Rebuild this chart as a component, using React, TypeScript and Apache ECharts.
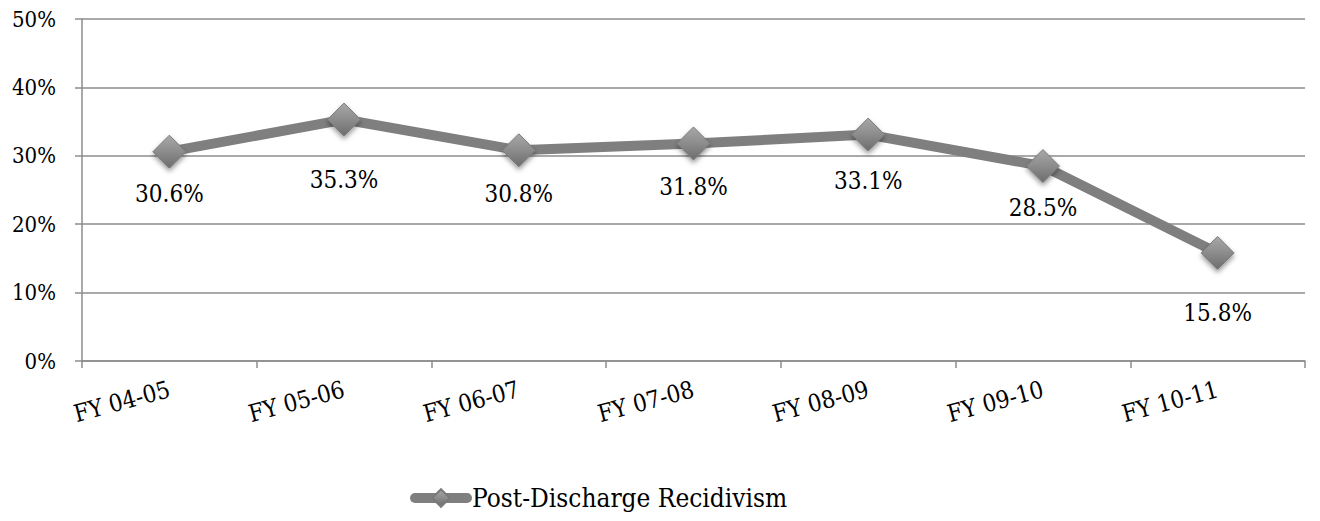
import React, { useEffect, useRef } from "react";
import * as echarts from "echarts";

const categories = ["FY 04-05", "FY 05-06", "FY 06-07", "FY 07-08", "FY 08-09", "FY 09-10", "FY 10-11"];
const recidivism = [30.6, 35.3, 30.8, 31.8, 33.1, 28.5, 15.8];
const seriesName = "Post-Discharge Recidivism";
const labelDistances = [13, 31, 15, 15, 17, 13, 31];

const FONT = "DejaVu Serif Condensed, DejaVu Serif";

export default function App() {
  const ref = useRef<HTMLDivElement>(null);
  useEffect(() => {
    if (!ref.current) return;
    const chart = echarts.init(ref.current, undefined, { renderer: "svg" });
    const markerFill = new echarts.graphic.LinearGradient(0, 0, 0, 1, [
      { offset: 0, color: "#a8a8a8" },
      { offset: 0.5, color: "#8c8c8c" },
      { offset: 1, color: "#6c6c6c" },
    ]);
    chart.setOption({
      animation: false,
      textStyle: { fontFamily: FONT },
      grid: { left: 82, right: 15, top: 19, bottom: 160 },
      xAxis: {
        type: "category",
        data: categories,
        boundaryGap: true,
        axisLine: { show: true, lineStyle: { color: "#8c8c8c", width: 1.5 } },
        axisTick: { show: true, length: 7, lineStyle: { color: "#8c8c8c", width: 1.5 } },
        axisLabel: { rotate: 15, margin: 28, color: "#000", fontSize: 24, fontFamily: FONT },
      },
      yAxis: {
        type: "value",
        min: 0,
        max: 50,
        interval: 10,
        axisLine: { show: true, lineStyle: { color: "#8c8c8c", width: 1.5 } },
        axisTick: { show: true, length: 7, lineStyle: { color: "#8c8c8c", width: 1.5 } },
        splitLine: { show: true, lineStyle: { color: "#8c8c8c", width: 1.5 } },
        axisLabel: { formatter: "{value}%", margin: 26, color: "#000", fontSize: 22, fontFamily: FONT },
      },
      legend: {
        show: true,
        left: 405,
        top: 480,
        itemWidth: 52,
        itemHeight: 22,
        itemGap: 2,
        lineStyle: { width: 10, cap: "round" },
        textStyle: { color: "#000", fontSize: 26, fontFamily: FONT },
        data: [seriesName],
      },
      series: [
        {
          name: seriesName,
          type: "line",
          data: recidivism.map((v, i) => ({
            value: v,
            label: { distance: labelDistances[i] },
          })),
          symbol: "diamond",
          symbolSize: [33, 33],
          lineStyle: { color: "#7f7f7f", width: 10, cap: "round", join: "round" },
          itemStyle: {
            color: markerFill,
            borderColor: "#7a7a7a",
            borderWidth: 1,
            shadowBlur: 5,
            shadowColor: "rgba(0,0,0,0.4)",
            shadowOffsetY: 3,
          },
          label: {
            show: true,
            position: "bottom",
            formatter: (p: any) => p.value.toFixed(1) + "%",
            color: "#000",
            fontSize: 24,
            fontFamily: FONT,
          },
          z: 3,
        },
      ],
    });
    return () => chart.dispose();
  }, []);
  return (
    <div
      ref={ref}
      style={{ position: "fixed", left: 0, top: 0, width: 1320, height: 521, background: "#fff" }}
    />
  );
}
